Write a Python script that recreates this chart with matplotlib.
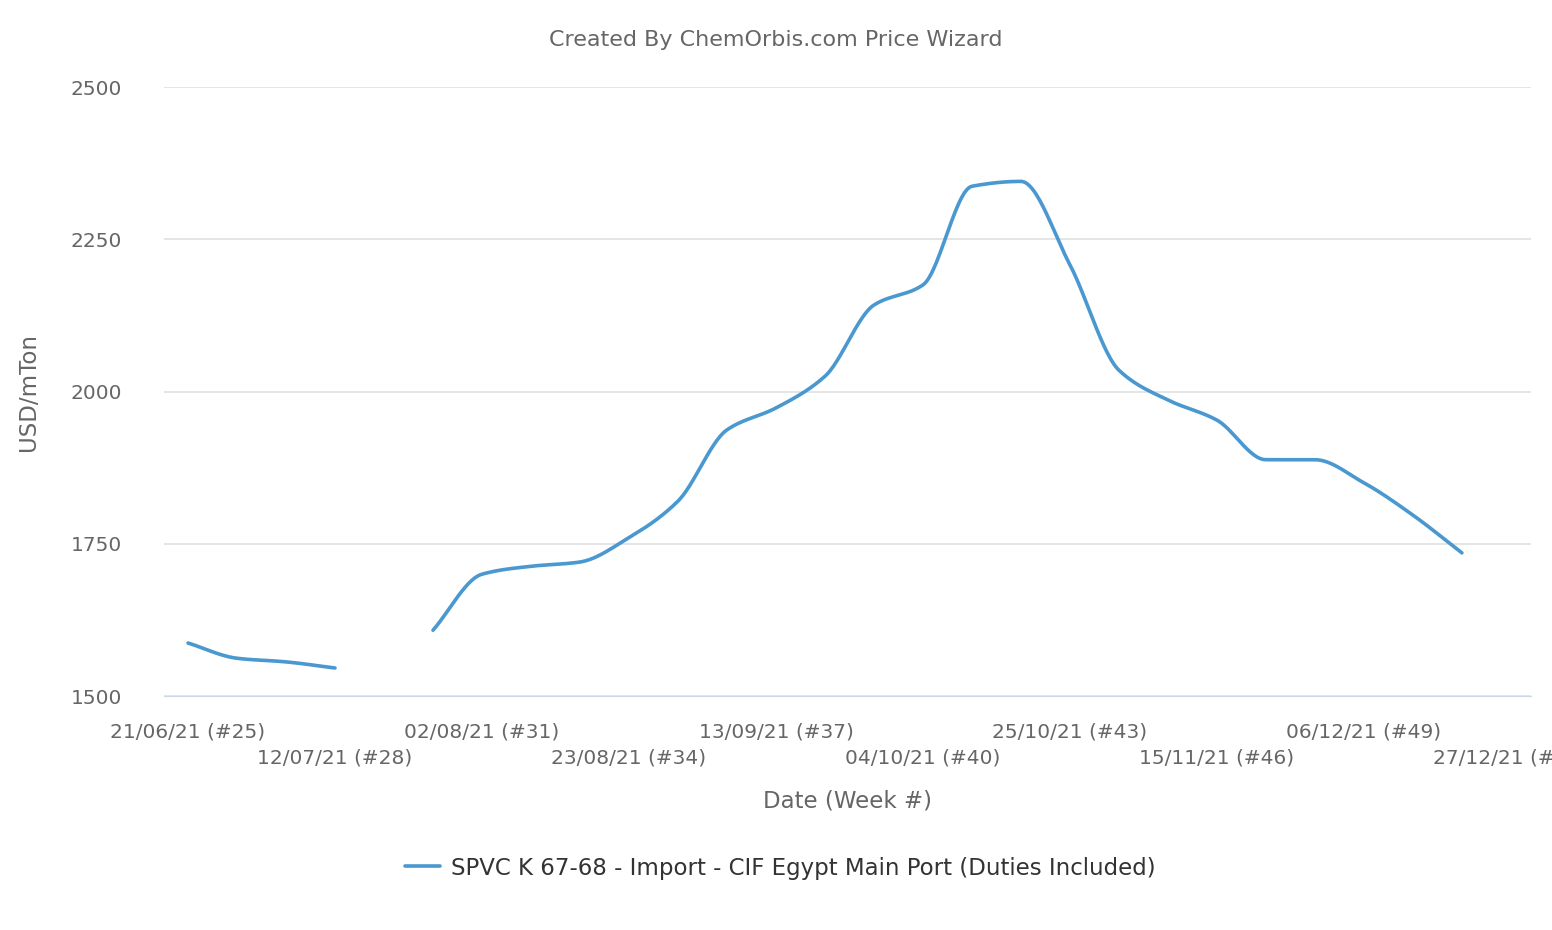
import numpy as np
import matplotlib.pyplot as plt

plt.rcParams["font.family"] = "DejaVu Sans"

# === Data (weekly, 2021) ===
weeks = [25, 26, 27, 28, 29, 30, 31, 32, 33, 34, 35, 36, 37, 38,
         39, 40, 41, 42, 43, 44, 45, 46, 47, 48, 49, 50, 51]
prices = [1587, 1562, 1556, 1546, None, 1608, 1700, 1713, 1720, 1760,
          1820, 1937, 1973, 2025, 2142, 2175, 2337, 2345, 2208, 2035,
          1986, 1953, 1888, 1888, 1850, 1797, 1735]
tick_weeks = [25, 28, 31, 34, 37, 40, 43, 46, 49, 52]
tick_labels = ["21/06/21 (#25)", "12/07/21 (#28)", "02/08/21 (#31)",
               "23/08/21 (#34)", "13/09/21 (#37)", "04/10/21 (#40)",
               "25/10/21 (#43)", "15/11/21 (#46)", "06/12/21 (#49)",
               "27/12/21 (#52)"]
series_name = "SPVC K 67-68 - Import - CIF Egypt Main Port (Duties Included)"

COLOR = "#4a98d0"
TEXT = "#666666"


def pchip(x, y, n=30):
    """Monotone cubic interpolation for smooth drawing."""
    x = np.asarray(x, float)
    y = np.asarray(y, float)
    if len(x) < 3:
        return x, y
    h = np.diff(x)
    d = np.diff(y) / h
    m = np.zeros_like(y)
    for i in range(1, len(x) - 1):
        if d[i - 1] * d[i] > 0:
            w1 = 2 * h[i] + h[i - 1]
            w2 = h[i] + 2 * h[i - 1]
            m[i] = (w1 + w2) / (w1 / d[i - 1] + w2 / d[i])
    m[0] = d[0]
    m[-1] = d[-1]
    xs, ys = [], []
    for i in range(len(x) - 1):
        t = np.linspace(0, 1, n)
        h00 = 2 * t**3 - 3 * t**2 + 1
        h10 = t**3 - 2 * t**2 + t
        h01 = -2 * t**3 + 3 * t**2
        h11 = t**3 - t**2
        xs.append(x[i] + t * h[i])
        ys.append(h00 * y[i] + h10 * h[i] * m[i] + h01 * y[i + 1] + h11 * h[i] * m[i + 1])
    return np.concatenate(xs), np.concatenate(ys)


fig = plt.figure(figsize=(15.52, 9.3), dpi=100)
ax = fig.add_axes([164 / 1552, 1 - 696 / 930, (1531 - 164) / 1552, (696 - 87) / 930])

# split into segments at missing values
segments, cur = [], []
for w, p in zip(weeks, prices):
    if p is None:
        if cur:
            segments.append(cur)
        cur = []
    else:
        cur.append((w, p))
if cur:
    segments.append(cur)

for i, seg in enumerate(segments):
    sx, sy = pchip([s[0] for s in seg], [s[1] for s in seg])
    ax.plot(sx, sy, color=COLOR, lw=2.6, solid_capstyle="round",
            label=series_name if i == 0 else None)

ax.set_xlim(24.51, 52.41)
ax.set_ylim(1500, 2500)
ax.set_yticks([1500, 1750, 2000, 2250, 2500])
ax.grid(axis="y", color="#e0e0e0", lw=1.2)
ax.set_axisbelow(True)
for s in ["top", "right", "left"]:
    ax.spines[s].set_visible(False)
ax.spines["bottom"].set_color("#ccd6eb")
ax.tick_params(axis="y", length=0, labelsize=14.5, labelcolor=TEXT, pad=30)
ax.tick_params(axis="x", length=0, labelsize=14.5, labelcolor=TEXT, pad=19)
ax.set_xticks(tick_weeks)
ax.set_xticklabels([lbl if i % 2 == 0 else "\n" + lbl for i, lbl in enumerate(tick_labels)],
                   linespacing=1.45)
for t in ax.get_xticklabels():
    t.set_clip_on(False)

ax.set_ylabel("USD/mTon", fontsize=16.5, color=TEXT, labelpad=22)
ax.set_xlabel("Date (Week #)", fontsize=16.5, color=TEXT, labelpad=16)
fig.text(0.5, 1 - 40 / 930, "Created By ChemOrbis.com Price Wizard",
         ha="center", va="center", fontsize=16, color=TEXT)

fig.legend(loc="center", bbox_to_anchor=(0.503, 1 - 868 / 930), frameon=False,
           fontsize=16.5, labelcolor="#333333", handlelength=1.5, handletextpad=0.5)

fig.savefig("out.png", dpi=100)
